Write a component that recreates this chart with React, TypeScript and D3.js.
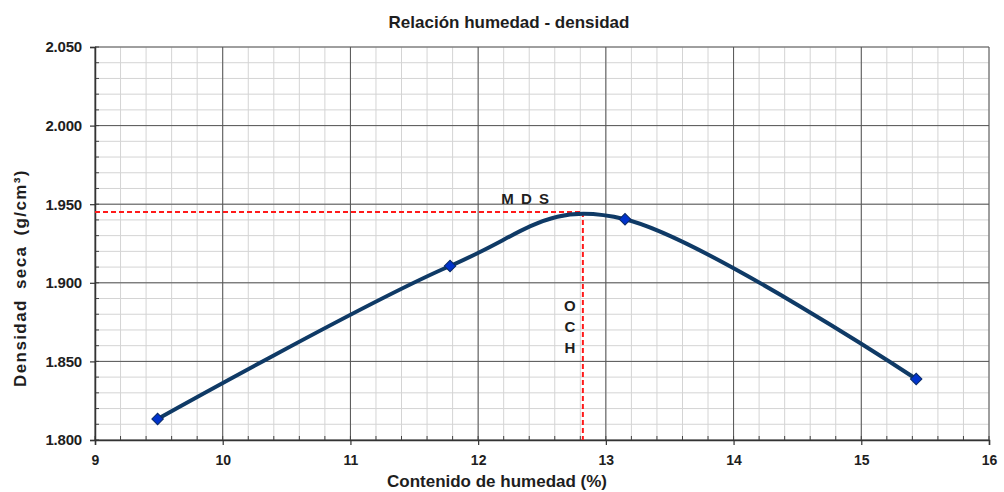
import React, { useRef, useEffect } from 'react';
import * as d3 from 'd3';

// puntos del ensayo Proctor (humedad %, densidad seca g/cm3)
const humedad = [9.49, 11.78, 13.15, 15.43];
const densidad = [1.8134, 1.9107, 1.9404, 1.8388];
const mds = 1.945; // maxima densidad seca
const och = 12.82; // optimo contenido de humedad
const xTicks = [9, 10, 11, 12, 13, 14, 15, 16];
const yTicks = [1.8, 1.85, 1.9, 1.95, 2.0, 2.05];

const App = () => {
  const svgRef = useRef<SVGSVGElement | null>(null);

  useEffect(() => {
    const width = 1004;
    const height = 492;
    const margin = { top: 47, right: 15, bottom: 52, left: 95 };

    const svg = d3.select(svgRef.current)
      .attr('width', width)
      .attr('height', height);
    svg.selectAll('*').remove();

    const x = d3.scaleLinear().domain([9, 16]).range([margin.left, width - margin.right]);
    const y = d3.scaleLinear().domain([1.8, 2.05]).range([height - margin.bottom, margin.top]);

    const font = 'Liberation Sans, Arial, sans-serif';
    const ink = '#1e1e1e';

    // minor grid
    const xMinor = d3.range(9, 16.001, 0.2);
    const yMinor = d3.range(1.8, 2.0501, 0.01);
    svg.append('g').selectAll('line').data(xMinor).join('line')
      .attr('x1', d => x(d)).attr('x2', d => x(d))
      .attr('y1', y(1.8)).attr('y2', y(2.05))
      .attr('stroke', '#d4d4d4').attr('stroke-width', 1);
    svg.append('g').selectAll('line').data(yMinor).join('line')
      .attr('x1', x(9)).attr('x2', x(16))
      .attr('y1', d => y(d)).attr('y2', d => y(d))
      .attr('stroke', '#d4d4d4').attr('stroke-width', 1);

    // major grid
    svg.append('g').selectAll('line').data(xTicks).join('line')
      .attr('x1', d => x(d)).attr('x2', d => x(d))
      .attr('y1', y(1.8)).attr('y2', y(2.05))
      .attr('stroke', '#555').attr('stroke-width', 1);
    svg.append('g').selectAll('line').data(yTicks).join('line')
      .attr('x1', x(9)).attr('x2', x(16))
      .attr('y1', d => y(d)).attr('y2', d => y(d))
      .attr('stroke', '#555').attr('stroke-width', 1);

    // minor ticks inside
    svg.append('g').selectAll('line').data(xMinor).join('line')
      .attr('x1', d => x(d)).attr('x2', d => x(d))
      .attr('y1', y(1.8)).attr('y2', y(1.8) - 4)
      .attr('stroke', '#444');
    svg.append('g').selectAll('line').data(yMinor).join('line')
      .attr('x1', x(9)).attr('x2', x(9) + 4)
      .attr('y1', d => y(d)).attr('y2', d => y(d))
      .attr('stroke', '#444');

    // axes
    const xAxis = svg.append('g')
      .attr('transform', `translate(0,${y(1.8)})`)
      .call(d3.axisBottom(x).tickValues(xTicks).tickFormat(d3.format('d')).tickSize(5).tickPadding(10));
    const yAxis = svg.append('g')
      .attr('transform', `translate(${x(9)},0)`)
      .call(d3.axisLeft(y).tickValues(yTicks).tickFormat(d3.format('.3f')).tickSize(5).tickPadding(8));
    [xAxis, yAxis].forEach(a => {
      a.select('.domain').attr('stroke', '#333').attr('stroke-width', 1.5);
      a.selectAll('.tick line').attr('stroke', '#333').attr('stroke-width', 1.2);
      a.selectAll('.tick text')
        .attr('font-family', font).attr('font-weight', 'bold')
        .attr('fill', ink);
    });
    xAxis.selectAll('.tick text').attr('font-size', 14);
    yAxis.selectAll('.tick text').attr('font-size', 15).attr('letter-spacing', -0.2);

    // red dashed MDS / OCH lines
    svg.append('line')
      .attr('x1', x(9)).attr('x2', x(och))
      .attr('y1', y(mds)).attr('y2', y(mds))
      .attr('stroke', '#ff1a1a').attr('stroke-width', 2).attr('stroke-dasharray', '5,3');
    svg.append('line')
      .attr('x1', x(och)).attr('x2', x(och))
      .attr('y1', y(mds)).attr('y2', y(1.8))
      .attr('stroke', '#ff1a1a').attr('stroke-width', 2).attr('stroke-dasharray', '5,3');

    svg.append('text')
      .attr('x', x(och) - 57).attr('y', y(mds) - 8)
      .attr('text-anchor', 'middle')
      .attr('font-family', font).attr('font-size', 15).attr('font-weight', 'bold')
      .attr('fill', ink).attr('letter-spacing', 1.5)
      .text('M D S');
    ['O', 'C', 'H'].forEach((c, i) => {
      svg.append('text')
        .attr('x', x(och) - 13).attr('y', 311 + i * 21)
        .attr('text-anchor', 'middle')
        .attr('font-family', font).attr('font-size', 15).attr('font-weight', 'bold')
        .attr('fill', ink)
        .text(c);
    });

    // curva suavizada
    const pts = humedad.map((h, i) => [h, densidad[i]] as [number, number]);
    const line = d3.line<[number, number]>()
      .x(d => x(d[0]))
      .y(d => y(d[1]))
      .curve(d3.curveCardinal.tension(0));
    svg.append('path')
      .datum(pts)
      .attr('fill', 'none')
      .attr('stroke', '#0f3a66')
      .attr('stroke-width', 4)
      .attr('d', line);

    // marcadores rombo
    const diamond = d3.symbol().type(d3.symbolSquare).size(66);
    svg.append('g').selectAll('path').data(pts).join('path')
      .attr('transform', d => `translate(${x(d[0])},${y(d[1])}) rotate(45)`)
      .attr('d', diamond)
      .attr('fill', '#0033cc')
      .attr('stroke', '#0a2a66')
      .attr('stroke-width', 1);

    // titles
    svg.append('text')
      .attr('x', 509).attr('y', 28)
      .attr('text-anchor', 'middle')
      .attr('font-family', font).attr('font-size', 17).attr('font-weight', 'bold')
      .attr('fill', ink)
      .text('Relación humedad - densidad');

    svg.append('text')
      .attr('x', 497).attr('y', 487)
      .attr('text-anchor', 'middle')
      .attr('font-family', font).attr('font-size', 17).attr('font-weight', 'bold')
      .attr('fill', ink)
      .text('Contenido de humedad (%)');

    svg.append('text')
      .attr('transform', `translate(26,278) rotate(-90)`)
      .attr('text-anchor', 'middle')
      .attr('font-family', font).attr('font-size', 17).attr('font-weight', 'bold')
      .attr('fill', ink).attr('letter-spacing', 1.4).attr('word-spacing', 4)
      .text('Densidad seca (g/cm³)');
  }, []);

  return (
    <svg ref={svgRef} style={{ position: 'absolute', left: 0, top: 0 }}></svg>
  );
};

export default App;
